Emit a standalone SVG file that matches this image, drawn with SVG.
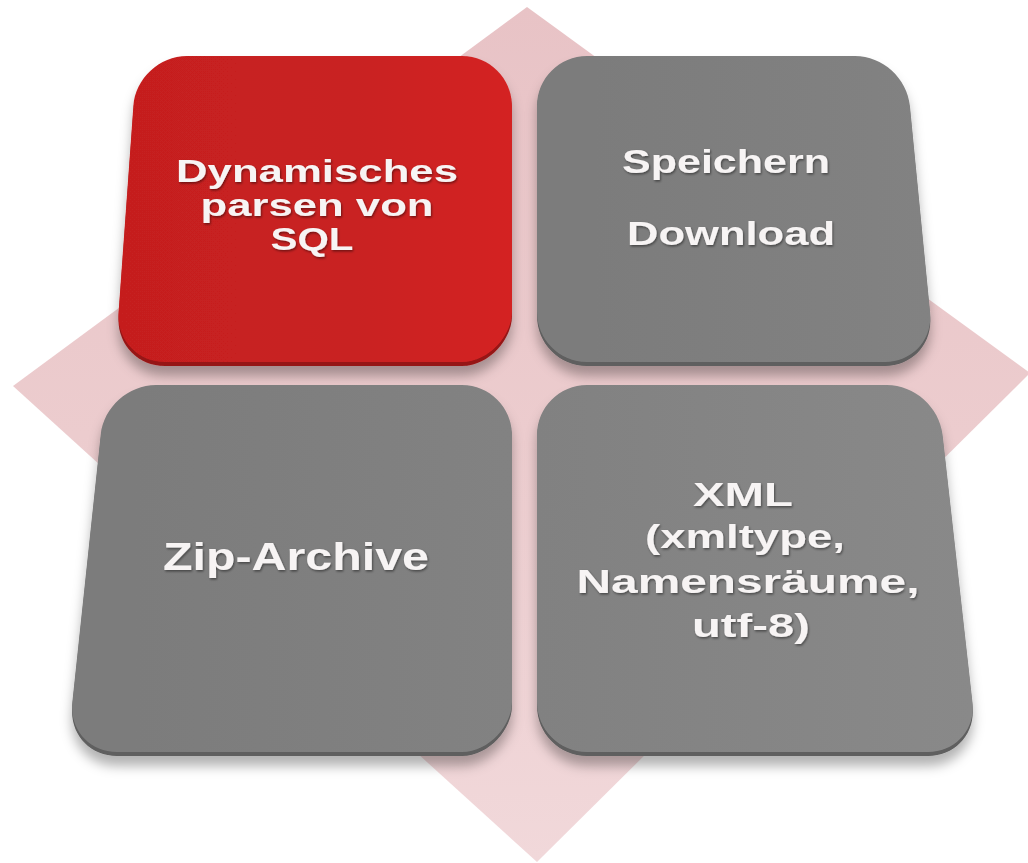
<svg xmlns="http://www.w3.org/2000/svg" width="1028" height="863" viewBox="0 0 1028 863">
  <style>
    .lbl { font-family: "Liberation Sans", Arial, sans-serif; font-weight: bold; fill: #f7f4f4; text-anchor: middle; filter: url(#txtShadow); }
    .gray { fill: url(#grayGrad); }
    .grayEdge { fill: #5e5e5e; }
    .redEdge { fill: #961515; }
  </style>
  <defs>
    <linearGradient id="pinkGrad" x1="0" y1="0" x2="0" y2="1">
      <stop offset="0" stop-color="#e8c3c6"/>
      <stop offset="0.5" stop-color="#ecccce"/>
      <stop offset="1" stop-color="#f1d8da"/>
    </linearGradient>
    <linearGradient id="redGrad" x1="0" y1="0" x2="1" y2="0">
      <stop offset="0" stop-color="#c51f1f"/>
      <stop offset="0.6" stop-color="#c92121"/>
      <stop offset="1" stop-color="#d42424"/>
    </linearGradient>
    <linearGradient id="grayGrad" x1="0" y1="0" x2="1" y2="0">
      <stop offset="0" stop-color="#7b7b7b"/>
      <stop offset="1" stop-color="#828282"/>
    </linearGradient>
    <linearGradient id="grayGrad2" x1="0" y1="0" x2="1" y2="0">
      <stop offset="0" stop-color="#818181"/>
      <stop offset="1" stop-color="#898989"/>
    </linearGradient>
    <filter id="boxShadow" x="-10%" y="-10%" width="120%" height="130%">
      <feGaussianBlur in="SourceAlpha" stdDeviation="6"/>
      <feOffset dx="0" dy="10" result="b"/>
      <feFlood flood-color="#000000" flood-opacity="0.3"/>
      <feComposite in2="b" operator="in"/>
      <feMerge><feMergeNode/><feMergeNode in="SourceGraphic"/></feMerge>
    </filter>
    <filter id="txtShadow" x="-10%" y="-30%" width="120%" height="160%">
      <feDropShadow dx="1" dy="1.5" stdDeviation="1" flood-color="#000000" flood-opacity="0.45"/>
    </filter>
    <path id="redShape" d="M187,56 L462,56 C489.6,56 512,78.4 512,106 L512,312 C512,334.4 489.6,362 462,362 L165,362 C137.4,362 116.6,339.6 118.6,312.1 L133.4,105.9 C135.4,78.4 159.4,56 187,56 Z"/>
    <path id="spShape" d="M587,56 L855,56 C882.6,56 907.2,78.3 909.9,105.8 L930.1,312.2 C932.8,339.7 912.6,362 885,362 L587,362 C559.4,362 537,339.6 537,312 L537,106 C537,78.4 559.4,56 587,56 Z"/>
    <path id="zipShape" d="M156,385 L462,385 C489.6,385 512,407.4 512,435 L512,702 C512,724.4 489.6,752 462,752 L117,752 C89.4,752 69.4,729.7 72.3,702.3 L100.7,434.7 C103.6,407.3 128.4,385 156,385 Z"/>
    <path id="xmlShape" d="M587,385 L887,385 C914.4,385 939.5,407.3 942.6,434.7 L972.5,702.3 C975.6,729.7 955.6,752 928,752 L587,752 C559.4,752 537,729.6 537,702 L537,435 C537,407.4 559.4,385 587,385 Z"/>
  </defs>

  <rect width="1028" height="863" fill="#ffffff"/>

  <g id="background-diamond">
    <polygon points="527,7 1030,373 537,862 13,386" fill="url(#pinkGrad)"/>
  </g>

  <g id="connectors"></g>

  <g id="node-dynamisches">
    <g filter="url(#boxShadow)">
      <use href="#redShape" class="redEdge" transform="translate(0,4)"/>
      <use href="#redShape" fill="url(#redGrad)"/>
    </g>
    <text class="lbl" font-size="31" x="317" y="182" textLength="282" lengthAdjust="spacingAndGlyphs">Dynamisches</text>
    <text class="lbl" font-size="31" x="317" y="216" textLength="233" lengthAdjust="spacingAndGlyphs">parsen von</text>
    <text class="lbl" font-size="31" x="312" y="250" textLength="83" lengthAdjust="spacingAndGlyphs">SQL</text>
  </g>

  <g id="node-speichern">
    <g filter="url(#boxShadow)">
      <use href="#spShape" class="grayEdge" transform="translate(0,4)"/>
      <use href="#spShape" class="gray"/>
    </g>
    <text class="lbl" font-size="33" x="726" y="173" textLength="208" lengthAdjust="spacingAndGlyphs">Speichern</text>
    <text class="lbl" font-size="33" x="731" y="245" textLength="208" lengthAdjust="spacingAndGlyphs">Download</text>
  </g>

  <g id="node-zip">
    <g filter="url(#boxShadow)">
      <use href="#zipShape" class="grayEdge" transform="translate(0,4)"/>
      <use href="#zipShape" class="gray"/>
    </g>
    <text class="lbl" font-size="39" x="296" y="570" textLength="266" lengthAdjust="spacingAndGlyphs">Zip-Archive</text>
  </g>

  <g id="node-xml">
    <g filter="url(#boxShadow)">
      <use href="#xmlShape" class="grayEdge" transform="translate(0,4)"/>
      <use href="#xmlShape" fill="url(#grayGrad2)"/>
    </g>
    <text class="lbl" font-size="34" x="743" y="506" textLength="100" lengthAdjust="spacingAndGlyphs">XML</text>
    <text class="lbl" font-size="34" x="745" y="548" textLength="200" lengthAdjust="spacingAndGlyphs">(xmltype,</text>
    <text class="lbl" font-size="34" x="748" y="593" textLength="343" lengthAdjust="spacingAndGlyphs">Namensräume,</text>
    <text class="lbl" font-size="34" x="751" y="637" textLength="118" lengthAdjust="spacingAndGlyphs">utf-8)</text>
  </g>
</svg>
